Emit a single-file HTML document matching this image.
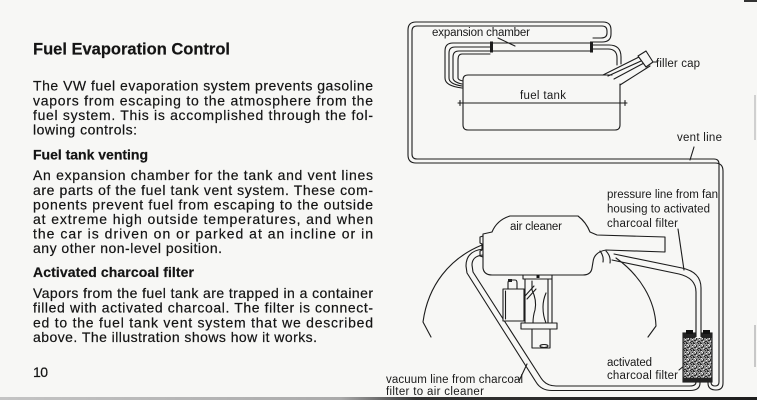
<!DOCTYPE html>
<html><head><meta charset="utf-8">
<style>html,body{margin:0;padding:0;background:#f7f7f5;}svg{display:block}</style>
</head><body>
<svg width="757" height="400" viewBox="0 0 757 400" xmlns="http://www.w3.org/2000/svg">
<defs>
<pattern id="ch" width="7" height="7" patternUnits="userSpaceOnUse">
<rect width="7" height="7" fill="#8e8e8e"/>
<path d="M0 0h2v1H0zM3 2h1v2H3zM5 0h1v1H5zM1 4h2v1H1zM5 5h2v1H5zM0 6h1v1H0zM4 6h1v1H4zM6 2h1v1H6z" fill="#2a2a2a"/>
<path d="M2 2h1v1H2zM6 3h1v1H6zM3 5h1v1H3zM1 1h1v1H1z" fill="#e8e8e8"/>
</pattern>
<linearGradient id="bb" x1="0" x2="1" y1="0" y2="0">
<stop offset="0" stop-color="#c4c4c4"/>
<stop offset="0.45" stop-color="#aaaaaa"/>
<stop offset="0.55" stop-color="#333"/>
<stop offset="1" stop-color="#1e1e1e"/>
</linearGradient>
</defs>
<rect width="757" height="400" fill="#f7f7f5"/>

<!-- left column text -->
<g font-family="'Liberation Sans', Arial, sans-serif" fill="#141414" stroke="#141414" stroke-width="0.2">
<text x="33" y="54.5" font-size="16.5" font-weight="bold" textLength="197" lengthAdjust="spacing">Fuel Evaporation Control</text>
<g font-size="14">
<text x="33" y="90.7" textLength="340" lengthAdjust="spacing">The VW fuel evaporation system prevents gasoline</text>
<text x="33" y="105.3" textLength="340" lengthAdjust="spacing">vapors from escaping to the atmosphere from the</text>
<text x="33" y="119.9" textLength="340" lengthAdjust="spacing">fuel system. This is accomplished through the fol-</text>
<text x="33" y="134.5" textLength="104" lengthAdjust="spacing">lowing controls:</text>
<text x="33" y="159.3" font-weight="bold" textLength="115" lengthAdjust="spacing">Fuel tank venting</text>
<text x="33" y="180" textLength="340" lengthAdjust="spacing">An expansion chamber for the tank and vent lines</text>
<text x="33" y="194.8" textLength="340" lengthAdjust="spacing">are parts of the fuel tank vent system. These com-</text>
<text x="33" y="209.3" textLength="340" lengthAdjust="spacing">ponents prevent fuel from escaping to the outside</text>
<text x="33" y="223.8" textLength="340" lengthAdjust="spacing">at extreme high outside temperatures, and when</text>
<text x="33" y="238.3" textLength="340" lengthAdjust="spacing">the car is driven on or parked at an incline or in</text>
<text x="33" y="253" textLength="189" lengthAdjust="spacing">any other non-level position.</text>
<text x="33" y="277" font-weight="bold" textLength="161" lengthAdjust="spacing">Activated charcoal filter</text>
<text x="33" y="298" textLength="340" lengthAdjust="spacing">Vapors from the fuel tank are trapped in a container</text>
<text x="33" y="312.6" textLength="340" lengthAdjust="spacing">filled with activated charcoal. The filter is connect-</text>
<text x="33" y="327.3" textLength="340" lengthAdjust="spacing">ed to the fuel tank vent system that we described</text>
<text x="33" y="342" textLength="284" lengthAdjust="spacing">above. The illustration shows how it works.</text>
<text x="33" y="377" textLength="15" lengthAdjust="spacing">10</text>
</g>
</g>

<!-- diagram lines -->
<g fill="none" stroke="#1c1c1c" stroke-width="1.1" stroke-linejoin="round" stroke-linecap="round">
<path d="M593 42 L602 42 Q611 42 611 34 L611 30 Q611 22 603 22 L416 22 Q408 22 408 30 L408 155 Q408 163 416 163 L715 163 Q723 163 723 171 L723 383 Q723 390 716 390 Q708 390 708 383 L708 381"/>
<path d="M593 38 L601 38 Q607 38 607 33 L607 31 Q607 26 602 26 L417 26 Q412 26 412 31 L412 154 Q412 159 417 159 L714 159 Q719 159 719 164 L719 382 Q719 386 715 386 Q711 386 711 382 L711 381"/>

<rect x="492" y="43" width="99" height="8" fill="#f7f7f5"/>
<path d="M490 43 L453 43 Q445 43 445 51 L445 78 Q445 86 462 88"/>
<path d="M490 47 L455 47 Q449 47 449 53 L449 78 Q449 84 462 86"/>
<path d="M490 51 L459 51 Q453 51 453 57 L453 78 Q453 82 462 84"/>
<path d="M490 54 L462 54 Q458 54 458 60 L458 78 Q458 80 463 81"/>
<path d="M592 45 L609 45 Q621 45 621 57 L621 64"/>
<path d="M592 49 L608 49 Q617 49 617 58 L617 65"/>

<path d="M612 75 L468 75 Q463 75 463 80 L463 125 Q463 130 468 130 L615 130 Q620 130 620 125 L620 84"/>
<path d="M458 103 L627 103 M460 100.5 L460 105.5 M625 100.5 L625 105.5"/>
<path d="M603 75 L641 56"/>
<path d="M608 76 L641 61"/>
<path d="M614 79 L644 63"/>
<path d="M620 85 L650 66"/>
<polygon points="638,56 646,51 653,62 646,67" fill="#f7f7f5"/>
<path d="M653 62 L657 62"/>
<path d="M498 38 L515 46"/>
<path d="M694 147 L690 160"/>
<path d="M678 229 L684 270"/>
<path d="M679 370 L690 361"/>
<path d="M519 381 L527 364"/>

<path d="M482 245 C450 258 428 285 423 322 L431 337"/>
<path d="M616 258 C640 275 655 300 656 326 L648 337"/>

<path d="M614 254 L682 268 Q701 272 701 288 L701 333"/>
<path d="M612 260 L679 274 Q696 278 696 292 L696 333"/>

<path d="M483 249 Q466 251 466 266 L467 273 L536 382 Q541 390.5 552 390.5 L690 390.5 Q700 390.5 700 383 L700 381"/>
<path d="M483 255 Q472 256 472 265 L473 272 L541 378 Q546 386 556 386 L690 386 Q696 386 696 382 L696 381"/>

<path d="M483 234 L492 232 Q497 220 510 216 L578 216 Q586 222 590 232 L597 235 L665 237 L665 252 L606 250 Q594 252 593 262 L592 268 Q591 275 583 275 L492 275 Q484 275 483 268 Z" fill="#f7f7f5"/>
<path d="M483 236 L480 237 L480 243 L482 244 L482 250 L480 251 L480 256 L483 257"/>
<path d="M600 251 Q604 256 603 262 M606 251 Q611 256 610 263"/>

<rect x="523" y="275" width="29" height="4" fill="#f7f7f5"/>
<rect x="525" y="279" width="27" height="44" fill="#f7f7f5"/>
<path d="M548 279 L548 323"/>
<path d="M532 281 L532 290 Q537 300 535 310 Q533 316 533 323"/>
<path d="M546 293 Q543 300 543 307 Q543 316 546 323"/>
<rect x="521" y="323" width="36" height="6" fill="#f7f7f5"/>
<rect x="532" y="329" width="18" height="19" fill="#f7f7f5"/>
<ellipse cx="544" cy="346" rx="4" ry="1.5"/>
<rect x="503" y="289" width="21" height="32" fill="#f7f7f5"/>
<path d="M505.5 291 L505.5 319"/>
<path d="M508 289 L508 283 Q508 280 511 280 L515 280 Q517 280 517 283 L517 289"/>
<path d="M525 296 L534 286 M527 299 L536 289"/>
</g>
<rect x="536.5" y="275.5" width="3" height="2.5" fill="#111"/>
<rect x="508" y="279" width="4" height="3" fill="#222"/>

<rect x="490" y="41.5" width="3" height="11" fill="#1c1c1c"/>
<rect x="590" y="41.5" width="3" height="11" fill="#1c1c1c"/>

<rect x="683" y="333" width="29" height="49" fill="url(#ch)" stroke="#1c1c1c" stroke-width="1.1"/>
<rect x="683" y="333" width="29" height="5" fill="#222"/>
<rect x="686" y="330" width="7" height="4" fill="#111"/>
<rect x="703" y="330" width="7" height="4" fill="#111"/>
<rect x="695.5" y="330" width="6" height="8" fill="#f7f7f5"/>
<path d="M696 330 L696 337 M701 330 L701 337" stroke="#1c1c1c" stroke-width="1.1"/>
<rect x="683" y="378" width="29" height="4" fill="#222"/>

<g font-family="'Liberation Sans', Arial, sans-serif" font-size="11.5" fill="#1a1a1a">
<text x="432" y="36" textLength="98" lengthAdjust="spacing">expansion chamber</text>
<text x="656" y="67" textLength="44" lengthAdjust="spacing">filler cap</text>
<text x="520" y="99" textLength="46" lengthAdjust="spacing">fuel tank</text>
<text x="677" y="141" textLength="45" lengthAdjust="spacing">vent line</text>
<text x="607" y="198" textLength="111" lengthAdjust="spacing">pressure line from fan</text>
<text x="607" y="212.5" textLength="103" lengthAdjust="spacing">housing to activated</text>
<text x="607" y="227" textLength="71" lengthAdjust="spacing">charcoal filter</text>
<text x="510" y="230" textLength="52" lengthAdjust="spacing">air cleaner</text>
<text x="607" y="366" textLength="45" lengthAdjust="spacing">activated</text>
<text x="607" y="379" textLength="71" lengthAdjust="spacing">charcoal filter</text>
<text x="386" y="383" textLength="137" lengthAdjust="spacing">vacuum line from charcoal</text>
<text x="386" y="395" textLength="98" lengthAdjust="spacing">filter to air cleaner</text>
</g>

<rect x="0" y="397" width="757" height="3" fill="url(#bb)"/>
<rect x="744" y="0" width="13" height="2" fill="#333"/>
<rect x="754" y="95" width="2" height="45" fill="#d0d0d0"/>
<rect x="754" y="325" width="2" height="42" fill="#c8c8c8"/>
</svg>
</body></html>
